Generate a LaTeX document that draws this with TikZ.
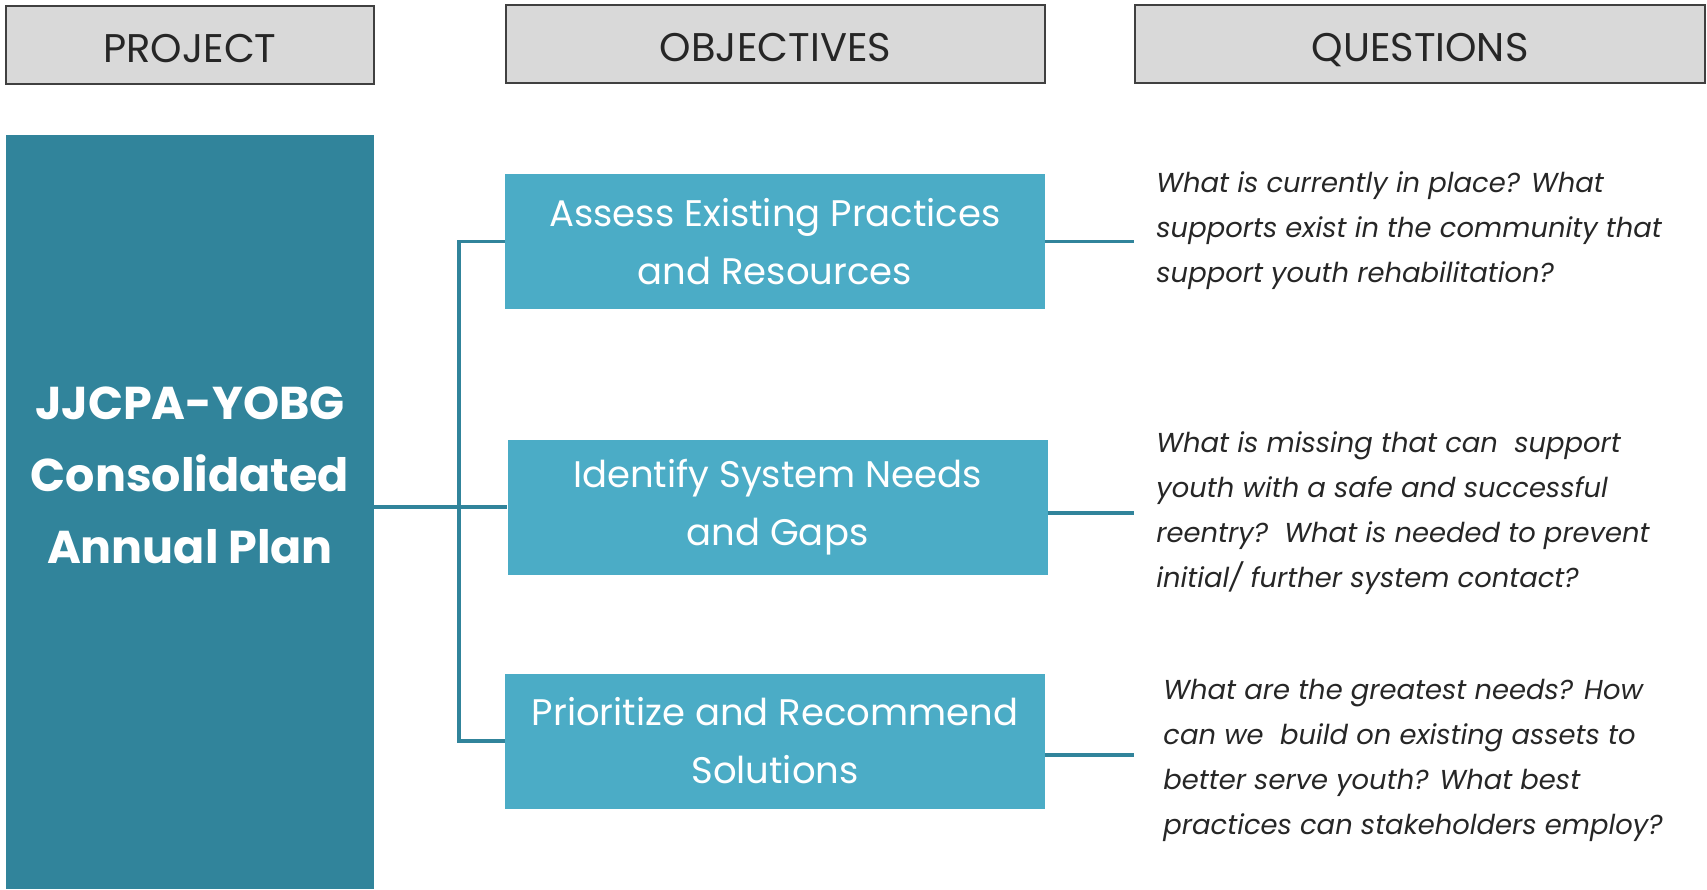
\documentclass[tikz,border=0pt]{standalone}
\usepackage{fontspec}
\setmainfont{Poppins}
\usepackage{xcolor}
\definecolor{headgray}{gray}{.85}
\definecolor{framegray}{RGB}{64,64,64}
\definecolor{darkteal}{RGB}{49,132,155}
\definecolor{lightteal}{RGB}{75,172,198}
\definecolor{textgray}{RGB}{38,38,38}
\usepackage{tikz}
\usetikzlibrary{positioning}
\newcommand{\widthproject}{184pt}
\newcommand{\widthobjective}{270pt}
\newcommand{\widthquestions}{285pt}
\tikzset{
    header/.style={draw=framegray, line width=1pt, fill=headgray, rectangle, minimum height=39pt,
        text height=17pt, text depth=0pt, text=textgray, font=\fontsize{20}{24}\selectfont},
    project/.style={rectangle, fill=darkteal, minimum width=\widthproject, minimum height=377pt},
    title/.style={align=center, text=white, font=\bfseries\fontsize{23}{36}\selectfont},
    objective/.style={rectangle, fill=lightteal, minimum width=\widthobjective, minimum height=67.5pt,
        align=center, text=white, font=\fontsize{18.5}{29}\selectfont},
    question/.style={anchor=west, align=left, inner sep=0pt, text=textgray,
        font=\itshape\fontsize{13.7}{22.5}\selectfont},
    link/.style={darkteal, line width=1.7pt}
}

\begin{document}
\begin{tikzpicture}[x=0.5pt, y=-0.5pt]
    \useasboundingbox (0,0) rectangle (1707,889);

    % headers
    \node[header, minimum width=\widthproject] (project-head) at (190,45) {PROJECT};
    \node[header, minimum width=269.5pt] (objectives-head) at (775.5,44) {OBJECTIVES};
    \node[header, minimum width=\widthquestions] (questions-head) at (1420,44) {QUESTIONS};

    % project
    \node[project] (project) at (190,512) {};
    \node[title] (project-title) at (190,475) {JJCPA-YOBG\\Consolidated\\Annual Plan};

    % objectives
    \node[objective] (assess) at (775,241.5) {Assess Existing Practices\\and Resources};
    \node[objective] (identify) at (777.5,507) {Identify System Needs\\and Gaps};
    \node[objective] (prioritize) at (775,741) {Prioritize and Recommend\\Solutions};

    % questions
    \node[question] (q-assess) at (1156,231)
        {What is currently in place? What\\supports exist in the community that\\support youth rehabilitation?};
    \node[question] (q-identify) at (1156,513)
        {What is missing that can\ \ support\\youth with a safe and successful\\reentry?\ \ What is needed to prevent\\initial/ further system contact?};
    \node[question] (q-prioritize) at (1163,760)
        {What are the greatest needs? How\\can we\ \ build on existing assets to\\better serve youth? What best\\practices can stakeholders employ?};

    \coordinate (fork) at (459,507);
    \draw[link] (project.east |- fork) -- (identify.west);
    \draw[link] (assess.west) -| (fork) |- (prioritize.west);
    \draw[link] (assess.east) -- (assess.east -| questions-head.west);
    \draw[link] ([yshift=-3pt]identify.east) -- ([yshift=-3pt]identify.east -| questions-head.west);
    \draw[link] ([yshift=-7pt]prioritize.east) -- ([yshift=-7pt]prioritize.east -| questions-head.west);
\end{tikzpicture}
\end{document}
